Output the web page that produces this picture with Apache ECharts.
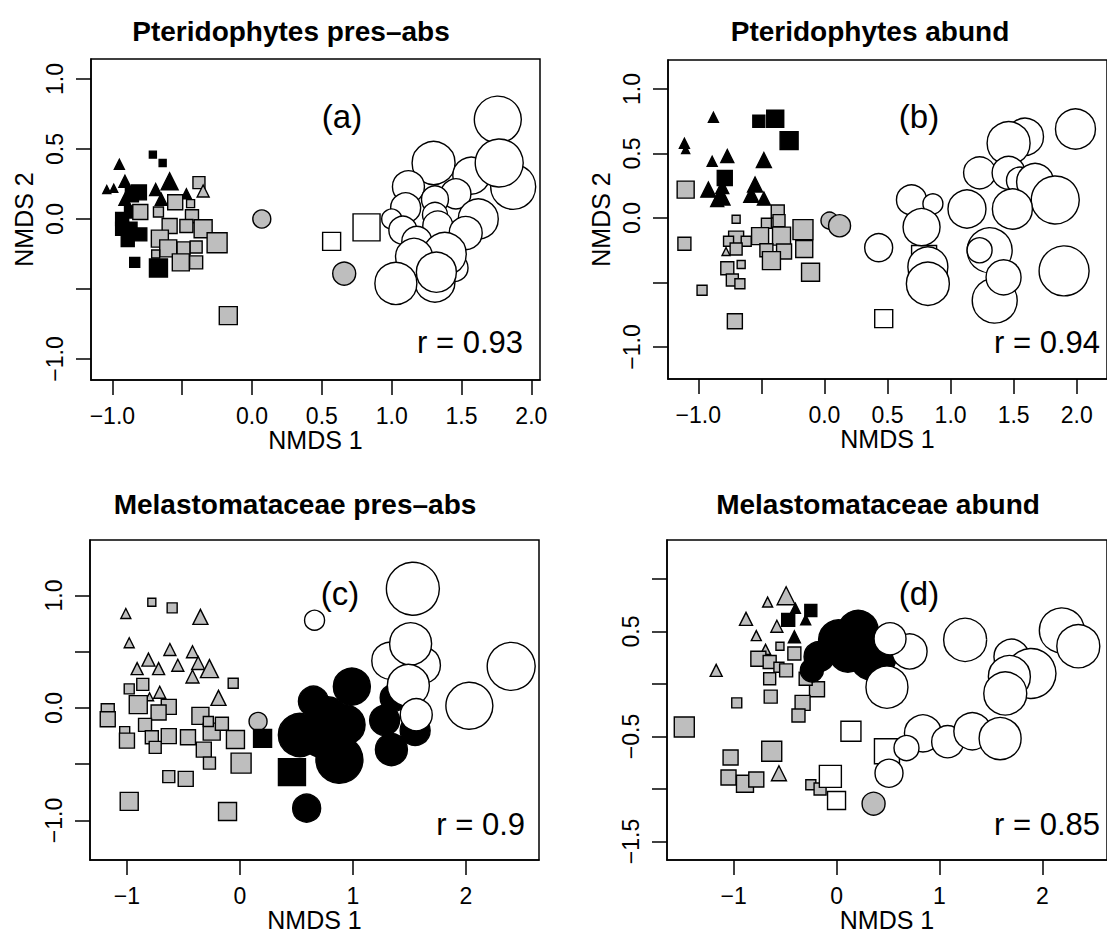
<!DOCTYPE html>
<html>
<head>
<meta charset="utf-8">
<script src="https://cdn.jsdelivr.net/npm/echarts@6/dist/echarts.min.js"></script>
<style>
  html, body { margin: 0; background: #fff; }
  #chart { width: 1107px; height: 942px; }
</style>
</head>
<body>
<div id="chart"></div>
<script>
// NMDS scores: [NMDS 1, NMDS 2, relative symbol size, kind]
// kind = fill + shape: w white / g grey / b black, c circle / s square / t triangle
const ptsPterPA = [
  [-0.71, 0.46, 0.7, 'bs'], [-0.64, 0.40, 0.7, 'bs'], [-0.81, 0.19, 1.5, 'bs'], [-0.86, 0.17, 1.3, 'bs'],
  [-0.87, 0.05, 1.2, 'bs'], [-0.93, 0.00, 1.3, 'bs'], [-0.93, -0.07, 1.3, 'bs'], [-0.87, -0.07, 1.3, 'bs'],
  [-0.80, -0.11, 1.3, 'bs'], [-0.89, -0.15, 1.3, 'bs'], [-0.84, -0.31, 1.0, 'bs'], [-0.67, -0.35, 1.8, 'bs'],
  [-0.95, 0.39, 1.0, 'bt'], [-1.04, 0.21, 0.8, 'bt'], [-0.99, 0.22, 0.8, 'bt'], [-0.91, 0.27, 1.2, 'bt'],
  [-0.91, 0.14, 1.2, 'bt'], [-0.59, 0.27, 1.7, 'bt'], [-0.69, 0.21, 1.2, 'bt'], [-0.65, 0.14, 1.2, 'bt'],
  [-0.47, 0.18, 1.0, 'bt'],
  [-0.38, 0.26, 1.2, 'gs'], [-0.55, 0.12, 1.5, 'gs'], [-0.80, 0.05, 1.5, 'gs'], [-0.67, 0.05, 1.0, 'gs'],
  [-0.44, 0.11, 0.8, 'gs'], [-0.43, 0.02, 1.3, 'gs'], [-0.59, -0.05, 1.5, 'gs'], [-0.47, -0.05, 1.3, 'gs'],
  [-0.35, -0.07, 1.8, 'gs'], [-0.66, -0.14, 1.7, 'gs'], [-0.60, -0.21, 1.7, 'gs'], [-0.49, -0.21, 1.3, 'gs'],
  [-0.25, -0.17, 2.0, 'gs'], [-0.40, -0.20, 1.2, 'gs'], [-0.69, -0.25, 0.8, 'gs'], [-0.51, -0.31, 1.7, 'gs'],
  [-0.40, -0.31, 1.3, 'gs'], [-0.17, -0.69, 1.8, 'gs'],
  [-0.35, 0.20, 1.2, 'gt'],
  [0.07, 0.00, 1.8, 'gc'], [0.66, -0.39, 2.3, 'gc'],
  [0.57, -0.16, 1.8, 'ws'], [0.82, -0.06, 2.7, 'ws'],
  [1.76, 0.71, 4.7, 'wc'], [1.30, 0.40, 4.3, 'wc'], [1.57, 0.31, 3.7, 'wc'], [1.87, 0.23, 4.5, 'wc'],
  [1.77, 0.40, 4.8, 'wc'], [1.12, 0.23, 3.2, 'wc'], [1.46, 0.18, 3.0, 'wc'], [1.31, 0.14, 2.7, 'wc'],
  [1.10, 0.08, 3.0, 'wc'], [1.31, 0.03, 2.5, 'wc'], [1.62, 0.00, 4.0, 'wc'], [1.00, 0.00, 2.0, 'wc'],
  [1.08, -0.08, 2.8, 'wc'], [1.33, -0.05, 3.0, 'wc'], [1.53, -0.10, 3.3, 'wc'], [1.18, -0.16, 3.0, 'wc'],
  [1.45, -0.35, 2.7, 'wc'], [1.38, -0.25, 4.3, 'wc'], [1.16, -0.27, 3.7, 'wc'], [1.31, -0.45, 4.0, 'wc'],
  [1.32, -0.38, 4.0, 'wc'], [1.03, -0.46, 4.2, 'wc']
];

const ptsPterAb = [
  [-0.88, 0.78, 1.0, 'bt'], [-1.11, 0.58, 1.0, 'bt'], [-1.10, 0.53, 0.8, 'bt'], [-0.89, 0.44, 1.0, 'bt'],
  [-0.77, 0.48, 1.3, 'bt'], [-0.48, 0.45, 1.5, 'bt'], [-0.92, 0.22, 1.5, 'bt'], [-0.82, 0.17, 1.8, 'bt'],
  [-0.81, 0.24, 1.3, 'bt'], [-0.55, 0.26, 1.5, 'bt'], [-0.58, 0.18, 1.5, 'bt'], [-0.48, 0.15, 1.3, 'bt'],
  [-0.85, 0.14, 1.3, 'bt'],
  [-0.52, 0.75, 1.2, 'bs'], [-0.39, 0.77, 1.7, 'bs'], [-0.28, 0.60, 1.8, 'bs'], [-0.79, 0.31, 1.5, 'bs'],
  [-1.10, 0.22, 1.7, 'gs'], [-1.11, -0.20, 1.3, 'gs'], [-0.70, -0.01, 0.8, 'gs'], [-0.37, 0.05, 1.3, 'gs'],
  [-0.36, -0.02, 1.2, 'gs'], [-0.46, -0.04, 1.0, 'gs'], [-0.17, -0.09, 2.0, 'gs'], [-0.34, -0.14, 1.8, 'gs'],
  [-0.51, -0.14, 1.7, 'gs'], [-0.70, -0.16, 1.5, 'gs'], [-0.62, -0.18, 1.0, 'gs'], [-0.76, -0.18, 1.0, 'gs'],
  [-0.70, -0.24, 1.2, 'gs'], [-0.16, -0.24, 1.7, 'gs'], [-0.32, -0.26, 1.5, 'gs'], [-0.46, -0.25, 1.3, 'gs'],
  [-0.42, -0.33, 1.8, 'gs'], [-0.77, -0.39, 1.3, 'gs'], [-0.66, -0.36, 0.8, 'gs'], [-0.73, -0.48, 1.2, 'gs'],
  [-0.67, -0.51, 1.0, 'gs'], [-0.97, -0.56, 1.0, 'gs'], [-0.11, -0.42, 1.8, 'gs'], [-0.71, -0.80, 1.5, 'gs'],
  [-0.78, -0.26, 0.8, 'gt'],
  [0.04, -0.02, 1.7, 'gc'], [0.12, -0.06, 2.2, 'gc'],
  [0.79, -0.31, 2.5, 'ws'], [0.47, -0.78, 1.8, 'ws'],
  [1.99, 0.69, 4.0, 'wc'], [1.59, 0.63, 3.7, 'wc'], [1.46, 0.58, 4.3, 'wc'], [1.23, 0.35, 3.2, 'wc'],
  [1.46, 0.35, 3.3, 'wc'], [1.55, 0.29, 2.7, 'wc'], [1.67, 0.28, 3.7, 'wc'], [1.83, 0.14, 4.8, 'wc'],
  [1.49, 0.07, 4.0, 'wc'], [1.13, 0.07, 3.8, 'wc'], [0.69, 0.14, 3.0, 'wc'], [0.86, 0.11, 2.0, 'wc'],
  [0.77, -0.07, 3.7, 'wc'], [0.43, -0.23, 2.8, 'wc'], [1.31, -0.25, 4.5, 'wc'], [1.23, -0.25, 2.5, 'wc'],
  [0.82, -0.38, 4.0, 'wc'], [0.82, -0.51, 4.3, 'wc'], [1.35, -0.64, 4.5, 'wc'], [1.42, -0.46, 3.5, 'wc'],
  [1.90, -0.41, 5.0, 'wc']
];

const ptsMelaPA = [
  [-1.01, 0.84, 1.0, 'gt'], [-0.98, 0.58, 1.0, 'gt'], [-0.35, 0.81, 1.5, 'gt'], [-0.62, 0.52, 1.2, 'gt'],
  [-0.42, 0.50, 1.2, 'gt'], [-0.81, 0.43, 1.3, 'gt'], [-0.91, 0.35, 1.2, 'gt'], [-0.72, 0.35, 1.2, 'gt'],
  [-0.55, 0.38, 1.2, 'gt'], [-0.37, 0.40, 1.3, 'gt'], [-0.27, 0.35, 1.8, 'gt'], [-0.42, 0.28, 1.3, 'gt'],
  [-0.71, 0.14, 1.2, 'gt'], [-0.80, 0.10, 0.8, 'gt'], [-0.19, 0.09, 1.5, 'gt'],
  [-0.78, 0.94, 0.8, 'gs'], [-0.60, 0.89, 1.0, 'gs'], [-0.06, 0.22, 1.0, 'gs'], [-0.98, 0.17, 1.0, 'gs'],
  [-0.86, 0.21, 1.2, 'gs'], [-1.17, -0.02, 1.3, 'gs'], [-1.17, -0.10, 1.5, 'gs'], [-0.90, 0.03, 1.8, 'gs'],
  [-0.63, 0.01, 1.5, 'gs'], [-0.72, -0.04, 1.5, 'gs'], [-0.35, -0.07, 1.7, 'gs'], [-0.84, -0.15, 1.3, 'gs'],
  [-1.02, -0.21, 1.0, 'gs'], [-1.00, -0.29, 1.5, 'gs'], [-0.78, -0.26, 1.3, 'gs'], [-0.63, -0.25, 1.5, 'gs'],
  [-0.75, -0.35, 1.2, 'gs'], [-0.46, -0.26, 1.5, 'gs'], [-0.25, -0.21, 1.7, 'gs'], [-0.16, -0.14, 1.3, 'gs'],
  [-0.28, -0.12, 1.0, 'gs'], [-0.32, -0.37, 1.5, 'gs'], [-0.27, -0.49, 1.2, 'gs'], [-0.04, -0.28, 1.8, 'gs'],
  [0.01, -0.49, 2.0, 'gs'], [-0.63, -0.61, 1.2, 'gs'], [-0.48, -0.63, 1.5, 'gs'], [-0.98, -0.83, 1.8, 'gs'],
  [-0.11, -0.92, 1.8, 'gs'],
  [0.16, -0.12, 1.8, 'gc'],
  [0.20, -0.27, 1.8, 'bs'], [0.46, -0.57, 2.7, 'bs'],
  [0.65, 0.06, 3.0, 'bc'], [0.53, -0.24, 4.3, 'bc'], [0.59, -0.89, 2.8, 'bc'], [0.99, 0.19, 3.7, 'bc'],
  [0.88, -0.46, 4.7, 'bc'], [0.78, -0.08, 4.0, 'bc'], [0.93, -0.15, 4.0, 'bc'], [0.71, -0.28, 3.5, 'bc'],
  [1.36, 0.09, 2.7, 'bc'], [1.28, -0.11, 3.0, 'bc'], [1.34, -0.37, 3.2, 'bc'], [1.55, -0.20, 3.0, 'bc'],
  [0.66, 0.78, 2.0, 'wc'], [1.53, 1.06, 5.3, 'wc'], [1.33, 0.42, 3.7, 'wc'], [1.61, 0.38, 3.7, 'wc'],
  [1.51, 0.57, 4.2, 'wc'], [1.49, 0.20, 4.2, 'wc'], [1.56, -0.06, 3.2, 'wc'], [2.03, 0.02, 4.7, 'wc'],
  [2.40, 0.37, 4.8, 'wc']
];

const ptsMelaAb = [
  [-0.49, 0.84, 1.8, 'gt'], [-0.67, 0.78, 1.0, 'gt'], [-0.88, 0.62, 1.3, 'gt'], [-0.58, 0.55, 1.2, 'gt'],
  [-0.78, 0.46, 1.0, 'gt'], [-0.69, 0.33, 1.0, 'gt'], [-1.17, 0.13, 1.2, 'gt'], [-0.56, -0.85, 1.5, 'gt'],
  [-0.55, 0.36, 0.8, 'gs'], [-0.76, 0.24, 1.5, 'gs'], [-0.65, 0.21, 1.3, 'gs'], [-0.41, 0.29, 1.3, 'gs'],
  [-0.56, 0.16, 1.0, 'gs'], [-0.49, 0.13, 1.3, 'gs'], [-0.65, 0.05, 1.2, 'gs'], [-0.19, -0.05, 1.5, 'gs'],
  [-0.33, -0.18, 1.5, 'gs'], [-0.37, -0.30, 1.3, 'gs'], [-0.64, -0.12, 1.3, 'gs'], [-0.97, -0.18, 1.0, 'gs'],
  [-0.30, 0.05, 1.3, 'gs'], [-1.48, -0.41, 2.0, 'gs'], [-1.03, -0.70, 1.5, 'gs'], [-0.63, -0.64, 2.0, 'gs'],
  [-1.05, -0.89, 1.5, 'gs'], [-0.89, -0.95, 1.7, 'gs'], [-0.78, -0.91, 1.5, 'gs'], [-0.25, -0.96, 1.0, 'gs'],
  [-0.16, -1.00, 1.2, 'gs'],
  [-0.40, 0.72, 1.0, 'bt'], [-0.30, 0.61, 1.0, 'bt'], [-0.41, 0.45, 1.2, 'bt'],
  [-0.47, 0.61, 1.3, 'bs'], [-0.25, 0.70, 1.2, 'bs'],
  [-0.17, 0.26, 3.0, 'bc'], [0.02, 0.42, 4.0, 'bc'], [0.21, 0.51, 4.0, 'bc'], [0.27, 0.32, 4.0, 'bc'],
  [-0.24, 0.13, 2.3, 'bc'], [0.11, 0.29, 3.7, 'bc'], [0.35, 0.26, 4.7, 'bc'],
  [0.14, -0.45, 2.0, 'ws'], [-0.06, -0.88, 2.2, 'ws'], [0.00, -1.11, 1.8, 'ws'], [0.49, -0.64, 2.5, 'ws'],
  [0.36, -1.14, 2.3, 'gc'],
  [0.71, 0.31, 3.5, 'wc'], [0.52, 0.43, 3.2, 'wc'], [0.49, -0.03, 4.2, 'wc'], [1.25, 0.42, 4.3, 'wc'],
  [2.19, 0.51, 4.5, 'wc'], [2.35, 0.36, 4.3, 'wc'], [1.70, 0.26, 3.5, 'wc'], [1.89, 0.10, 5.0, 'wc'],
  [1.68, 0.07, 4.2, 'wc'], [1.64, -0.09, 4.3, 'wc'], [0.84, -0.47, 3.7, 'wc'], [1.08, -0.55, 3.2, 'wc'],
  [1.32, -0.45, 3.7, 'wc'], [1.59, -0.52, 4.2, 'wc'], [0.68, -0.61, 2.5, 'wc'], [0.51, -0.85, 2.8, 'wc']
];

const titles = ['Pteridophytes pres\u2013abs', 'Pteridophytes abund', 'Melastomataceae pres\u2013abs', 'Melastomataceae abund'];
const tags = ['(a)', '(b)', '(c)', '(d)'];
const rValues = ['0.93', '0.94', '0.9', '0.85'];

const xTicksPter = [-1, -0.5, 0, 0.5, 1, 1.5, 2];
const xLabelsPter = [-1, 0, 0.5, 1, 1.5, 2];
const yTicksPter = [-1, -0.5, 0, 0.5, 1];
const yLabelsPter = [-1, 0, 0.5, 1];
const xTicksMela = [-1, 0, 1, 2];
const yTicksMelaPA = [-1, -0.5, 0, 0.5, 1];
const yLabelsMelaPA = [-1, 0, 1];
const yTicksMelaAb = [-1.5, -1, -0.5, 0, 0.5, 1];
const yLabelsMelaAb = [-1.5, -0.5, 0.5];

const FONT = '"Liberation Sans", Arial, Helvetica, sans-serif';
const SIZE_UNIT = 10;
const SHAPE = {c: 'circle', s: 'rect', t: 'triangle'};
const FILL = {w: '#ffffff', g: '#bebebe', b: '#000000'};

const panels = [
  {pts: ptsPterPA, grid: {left: 91, top: 59, width: 449, height: 321}, x: [-1.153, 2.062], y: [-1.15, 1.143],
   xt: xTicksPter, xl: xLabelsPter, xd: 1, yt: yTicksPter, yl: yLabelsPter, yName: true,
   titleX: 291, titleY: 31, tag: [342, 116], r: [523, 342]},
  {pts: ptsPterAb, grid: {left: 668, top: 60, width: 449, height: 319}, x: [-1.240, 2.240], y: [-1.248, 1.225],
   xt: xTicksPter, xl: xLabelsPter, xd: 1, yt: yTicksPter, yl: yLabelsPter, yName: true,
   titleX: 870, titleY: 31, tag: [919, 116], r: [1100, 342]},
  {pts: ptsMelaPA, grid: {left: 90, top: 540, width: 449, height: 320}, x: [-1.327, 2.646], y: [-1.351, 1.493],
   xt: xTicksMela, xl: xTicksMela, xd: 0, yt: yTicksMelaPA, yl: yLabelsMelaPA, yName: false,
   titleX: 295, titleY: 504, tag: [340, 593], r: [525, 824]},
  {pts: ptsMelaAb, grid: {left: 667, top: 540, width: 449, height: 320}, x: [-1.648, 2.629], y: [-1.676, 1.371],
   xt: xTicksMela, xl: xTicksMela, xd: 0, yt: yTicksMelaAb, yl: yLabelsMelaAb, yName: false,
   titleX: 878, titleY: 504, tag: [919, 593], r: [1100, 824]}
];

function fmt(digits) {
  return v => (v < 0 ? '\u2212' : '') + Math.abs(v).toFixed(digits);
}

const axisText = {color: '#000', fontSize: 23, fontFamily: FONT};
const nameText = {color: '#000', fontSize: 25, fontFamily: FONT};
const tickStyle = {show: true, inside: false, length: 15, lineStyle: {color: '#000', width: 1.5}};

const grids = [], xAxes = [], yAxes = [], series = [], graphics = [];

panels.forEach((p, i) => {
  grids.push(Object.assign({show: true, borderColor: '#000', borderWidth: 1.5, backgroundColor: 'transparent'}, p.grid));

  xAxes.push({
    gridIndex: i, type: 'value', min: p.x[0], max: p.x[1],
    axisLine: {show: true, onZero: false, lineStyle: {color: '#000', width: 1.5}},
    axisTick: Object.assign({customValues: p.xt}, tickStyle),
    axisLabel: Object.assign({customValues: p.xl, formatter: fmt(p.xd), margin: 24}, axisText),
    splitLine: {show: false},
    name: 'NMDS 1', nameLocation: 'middle', nameGap: 45, nameTextStyle: nameText
  });

  yAxes.push({
    gridIndex: i, type: 'value', min: p.y[0], max: p.y[1],
    axisLine: {show: true, onZero: false, lineStyle: {color: '#000', width: 1.5}},
    axisTick: Object.assign({customValues: p.yt}, tickStyle),
    axisLabel: Object.assign({customValues: p.yl, formatter: fmt(1), margin: 25, rotate: 90}, axisText),
    splitLine: {show: false},
    name: p.yName ? 'NMDS 2' : '', nameLocation: 'middle', nameGap: 55, nameRotate: 90, nameTextStyle: nameText
  });

  series.push({
    type: 'scatter', xAxisIndex: i, yAxisIndex: i, silent: true, clip: true,
    data: p.pts.map(([x, y, s, kind]) => ({
      value: [x, y],
      symbol: SHAPE[kind[1]],
      symbolSize: s * SIZE_UNIT,
      itemStyle: {color: FILL[kind[0]], borderColor: '#000', borderWidth: 1.4, opacity: 1}
    }))
  });

  graphics.push(
    {type: 'text', x: p.titleX, y: p.titleY, style: {text: titles[i], font: 'bold 28px ' + FONT, fill: '#000',
      textAlign: 'center', textVerticalAlign: 'middle', align: 'center', verticalAlign: 'middle'}},
    {type: 'text', x: p.tag[0], y: p.tag[1], style: {text: tags[i], font: '33px ' + FONT, fill: '#000',
      textAlign: 'center', textVerticalAlign: 'middle', align: 'center', verticalAlign: 'middle'}},
    {type: 'text', x: p.r[0], y: p.r[1], style: {text: 'r = ' + rValues[i], font: '31px ' + FONT, fill: '#000',
      textAlign: 'right', textVerticalAlign: 'middle', align: 'right', verticalAlign: 'middle'}}
  );
});

const chart = echarts.init(document.getElementById('chart'), null, {renderer: 'svg'});
chart.setOption({
  animation: false,
  backgroundColor: '#fff',
  grid: grids,
  xAxis: xAxes,
  yAxis: yAxes,
  series: series,
  graphic: graphics
});
</script>
</body>
</html>
